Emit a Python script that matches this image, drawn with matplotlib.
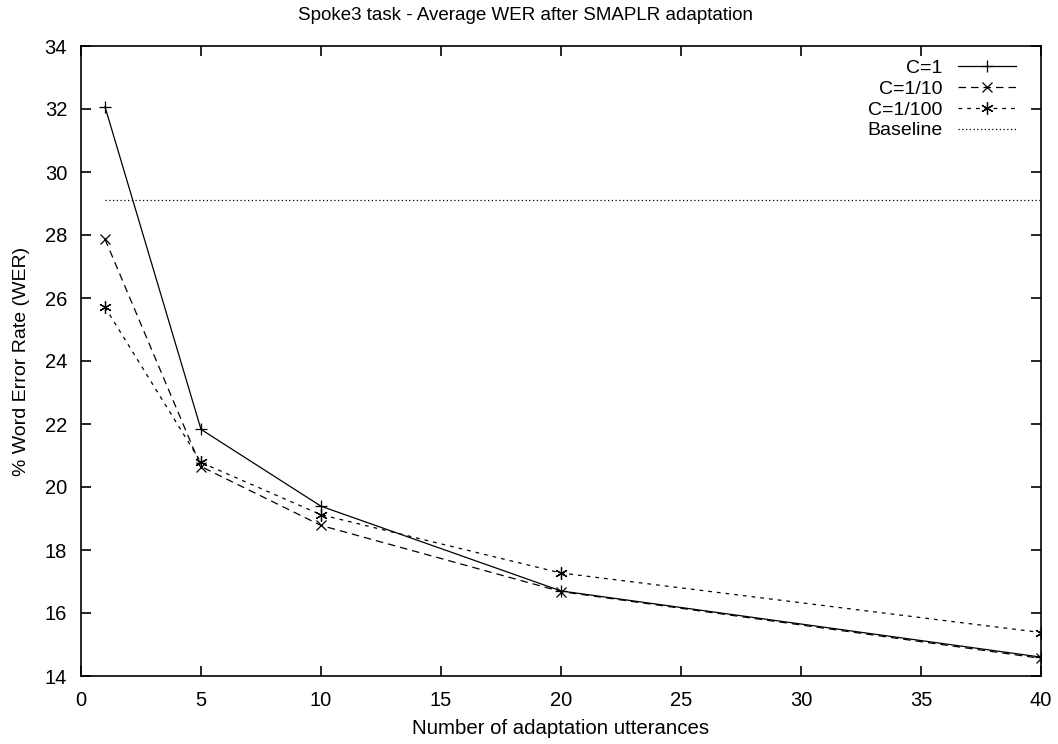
import matplotlib
matplotlib.use("Agg")
import matplotlib.pyplot as plt

plt.rcParams['font.family'] = ['Liberation Sans', 'DejaVu Sans']

utterances = [1, 5, 10, 20, 40]
wer_c1 = [32.07, 21.83, 19.39, 16.70, 14.60]
wer_c10 = [27.87, 20.65, 18.78, 16.68, 14.56]
wer_c100 = [25.71, 20.78, 19.12, 17.27, 15.38]
baseline_x = [1, 40]
baseline_wer = [29.1, 29.1]

fig = plt.figure(figsize=(10.58, 7.44), dpi=100)
ax = fig.add_axes([81/1058, 1 - 676/744, (1041-81)/1058, (676-46)/744])

ax.plot(utterances, wer_c1, color='black', lw=0.9, marker='+', ms=9, mew=0.9, label='C=1')
ax.plot(utterances, wer_c10, color='black', lw=0.9, ls=(0, (6, 4)), marker='x', ms=7, mew=0.9, label='C=1/10')
ax.plot(utterances, wer_c100, color='black', lw=0.9, ls=(0, (3, 4)), marker=(6, 2, 0), ms=9, mew=0.9, label='C=1/100')
ax.plot(baseline_x, baseline_wer, color='black', lw=0.9, ls=(0, (1, 2)), label='Baseline')

ax.set_xlim(0, 40)
ax.set_ylim(14, 34)
ax.set_xticks(range(0, 41, 5))
ax.set_yticks(range(14, 35, 2))
ax.tick_params(direction='in', top=True, right=True, length=7, width=1.2, labelsize=14.5)
ax.tick_params(axis='x', pad=11)
ax.tick_params(axis='y', pad=10)
for s in ax.spines.values():
    s.set_linewidth(1.2)

ax.set_xlabel('Number of adaptation utterances', fontsize=14.7, va='center')
ax.xaxis.set_label_coords(0.5, -(729 - 676) / 630)
ax.set_ylabel('% Word Error Rate (WER)', fontsize=14, va='center')
ax.yaxis.set_label_coords((22 - 81) / 960, 0.5)
fig.text(526/1058, 1 - 15/744, 'Spoke3 task - Average WER after SMAPLR adaptation',
         fontsize=13.5, ha='center', va='center')

leg = ax.legend(loc='upper right', bbox_to_anchor=(1 - 11/960, 1), markerfirst=False,
                frameon=False, fontsize=14, handlelength=3.0, numpoints=1,
                labelspacing=0.16, borderaxespad=0.5, borderpad=0.2, handletextpad=0.8)
for t in leg.get_texts():
    t.set_ha('right')

fig.savefig('out.png', dpi=100)
